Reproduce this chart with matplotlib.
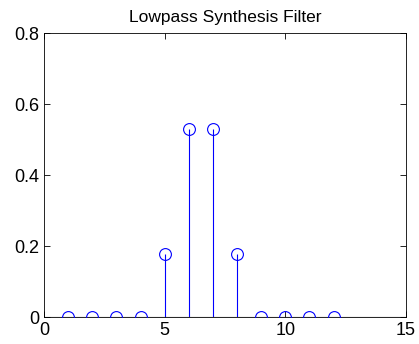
import matplotlib
matplotlib.use("Agg")
import matplotlib.pyplot as plt

plt.rcParams["font.family"] = ["Liberation Sans", "DejaVu Sans"]

n = [1, 2, 3, 4, 5, 6, 7, 8, 9, 10, 11, 12]
lo_r = [0, 0, 0, 0, 0.1768, 0.5303, 0.5303, 0.1768, 0, 0, 0, 0]

fig = plt.figure(figsize=(4.19, 3.44), dpi=100)
ax = fig.add_axes([0.105, 0.078, 0.864, 0.826])

markers, stems, base = ax.stem(n, lo_r, linefmt="b-", markerfmt="o", basefmt="k-")
markers.set_markerfacecolor("none")
markers.set_markeredgecolor("blue")
markers.set_markersize(8.5)
markers.set_markeredgewidth(0.8)
markers.set_zorder(3)
stems.set_linewidth(0.8)
base.set_linewidth(0.8)
base.set_color("#333333")
base.set_xdata([0, 15])

ax.set_xlim(0, 15)
ax.set_ylim(0, 0.8)
ax.set_xticks([0, 5, 10, 15])
ax.set_yticks([0, 0.2, 0.4, 0.6, 0.8])
ax.set_yticklabels(["0", "0.2", "0.4", "0.6", "0.8"])
ax.tick_params(direction="in", labelsize=13, length=4, width=0.6,
               top=True, right=True)
for s in ax.spines.values():
    s.set_linewidth(0.6)
ax.set_title("Lowpass Synthesis Filter", fontsize=12.5, pad=8)

fig.savefig("out.png", dpi=100)
